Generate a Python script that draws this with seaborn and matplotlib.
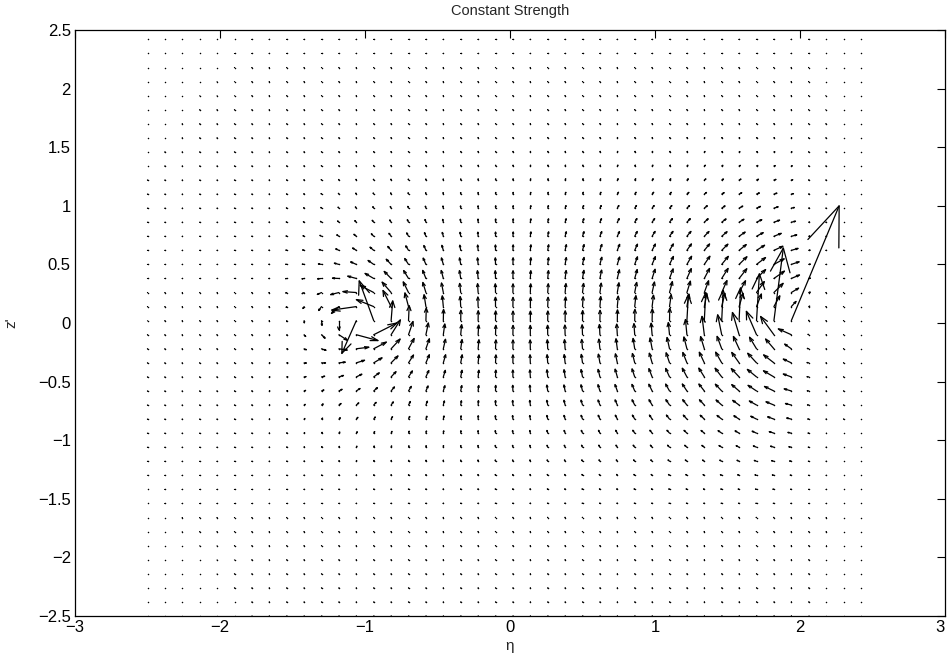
import numpy as np
import matplotlib
matplotlib.use("Agg")
import matplotlib.pyplot as plt
from matplotlib.collections import LineCollection
import seaborn as sns

sns.set_theme(style="white")
plt.rcParams["font.family"] = ["Liberation Sans", "DejaVu Sans"]

# sampling grid (eta, z')
eta = np.arange(-2.5, 2.45, 0.12)
zp = np.arange(-2.5, 2.45, 0.12)

# induced field: two cored vortices (+ = counter-clockwise)
vort_eta = [-1.0, 2.1]
vort_z = [0.035, 0.0]
vort_gamma = [0.028, -0.12]
vort_core = [0.08, 0.55]

# extent of the disturbed band and decay lengths outside it
band_eta = [-1.0, 1.85]
decay_eta = [0.6, 0.15]
decay_z = 0.95

# individually read arrows close to the two singular ends
near_eta = [-0.94, -1.06, -0.94, -1.06, -1.06, -0.94, -1.18,
            1.94, 1.82, 1.70, 1.58, 1.46, 1.34, 1.22,
            1.94, 1.82, 1.70, 1.58, 1.46, 1.34, 1.22]
near_z = [0.02, 0.02, -0.10, -0.10, 0.14, 0.14, 0.02,
          0.02, 0.02, 0.02, 0.02, 0.02, 0.02, 0.02,
          -0.10, -0.10, -0.10, -0.10, -0.10, -0.10, -0.10]
near_u = [-0.10, -0.10, 0.16, 0.15, -0.17, -0.12, 0.00,
          0.33, 0.065, 0.02, 0.01, 0.01, 0.01, 0.01,
          -0.09, -0.092, -0.07, -0.046, -0.028, -0.016, -0.01]
near_w = [0.34, -0.28, 0.10, -0.05, -0.03, 0.06, -0.08,
          0.98, 0.62, 0.40, 0.28, 0.26, 0.24, 0.22,
          0.05, 0.156, 0.20, 0.19, 0.17, 0.157, 0.13]

X, Z = np.meshgrid(eta, zp)
U = np.zeros_like(X)
W = np.zeros_like(X)
for xc, zc, g, d in zip(vort_eta, vort_z, vort_gamma, vort_core):
    dx, dz = X - xc, Z - zc
    r2 = dx ** 2 + dz ** 2 + d ** 2
    U += -g * dz / r2
    W += g * dx / r2

outside_l = np.clip(band_eta[0] - X, 0, None)
outside_r = np.clip(X - band_eta[1], 0, None)
env = (np.exp(-(outside_l / decay_eta[0]) ** 2)
       * np.exp(-(outside_r / decay_eta[1]) ** 2)
       * np.exp(-(Z / decay_z) ** 2))
U *= env
W *= env

for e, z, u, w in zip(near_eta, near_z, near_u, near_w):
    i = np.argmin(np.abs(zp - z))
    j = np.argmin(np.abs(eta - e))
    U[i, j] = u
    W[i, j] = w

# arrows with open heads, head size proportional to arrow length
alpha, beta = 0.33, 0.33
x, y, u, v = X.ravel(), Z.ravel(), U.ravel(), W.ravel()
tip_x, tip_y = x + u, y + v
shafts = np.stack([np.column_stack([x, y]), np.column_stack([tip_x, tip_y])], axis=1)
heads = np.stack([
    np.column_stack([tip_x - alpha * (u + beta * v), tip_y - alpha * (v - beta * u)]),
    np.column_stack([tip_x, tip_y]),
    np.column_stack([tip_x - alpha * (u - beta * v), tip_y - alpha * (v + beta * u)]),
], axis=1)

fig = plt.figure(figsize=(9.47, 6.64), dpi=100)
ax = fig.add_axes([0.0792, 0.0723, 0.9187, 0.8825])
ax.add_collection(LineCollection(list(shafts), colors="black", linewidths=0.9,
                                 capstyle="round"))
ax.add_collection(LineCollection(list(heads), colors="black", linewidths=0.9,
                                 capstyle="round", joinstyle="miter"))
ax.scatter(x, y, s=1.2, c="black", linewidths=0)

ax.set_xlim(-3, 3)
ax.set_ylim(-2.5, 2.5)
ax.set_xticks(np.arange(-3, 4, 1))
ax.set_yticks(np.arange(-2.5, 2.51, 0.5))
ax.set_xticklabels(["\u22123", "\u22122", "\u22121", "0", "1", "2", "3"])
ax.set_yticklabels(["\u22122.5", "\u22122", "\u22121.5", "\u22121", "\u22120.5", "0",
                    "0.5", "1", "1.5", "2", "2.5"])
ax.tick_params(direction="in", length=6, width=0.8, top=True, right=True,
               labelsize=12, colors="black", pad=3)
for lbl in ax.get_xticklabels()[-1:]:
    lbl.set_horizontalalignment("right")
for s in ax.spines.values():
    s.set_visible(True)
    s.set_color("black")
    s.set_linewidth(0.9)
ax.set_facecolor("white")
ax.set_title("Constant Strength", fontsize=10.5, pad=11)
ax.set_xlabel("\u03b7", fontsize=11, labelpad=3)
ax.set_ylabel("z'", fontsize=11, labelpad=14)

fig.savefig("out.png", dpi=100, facecolor="white")
